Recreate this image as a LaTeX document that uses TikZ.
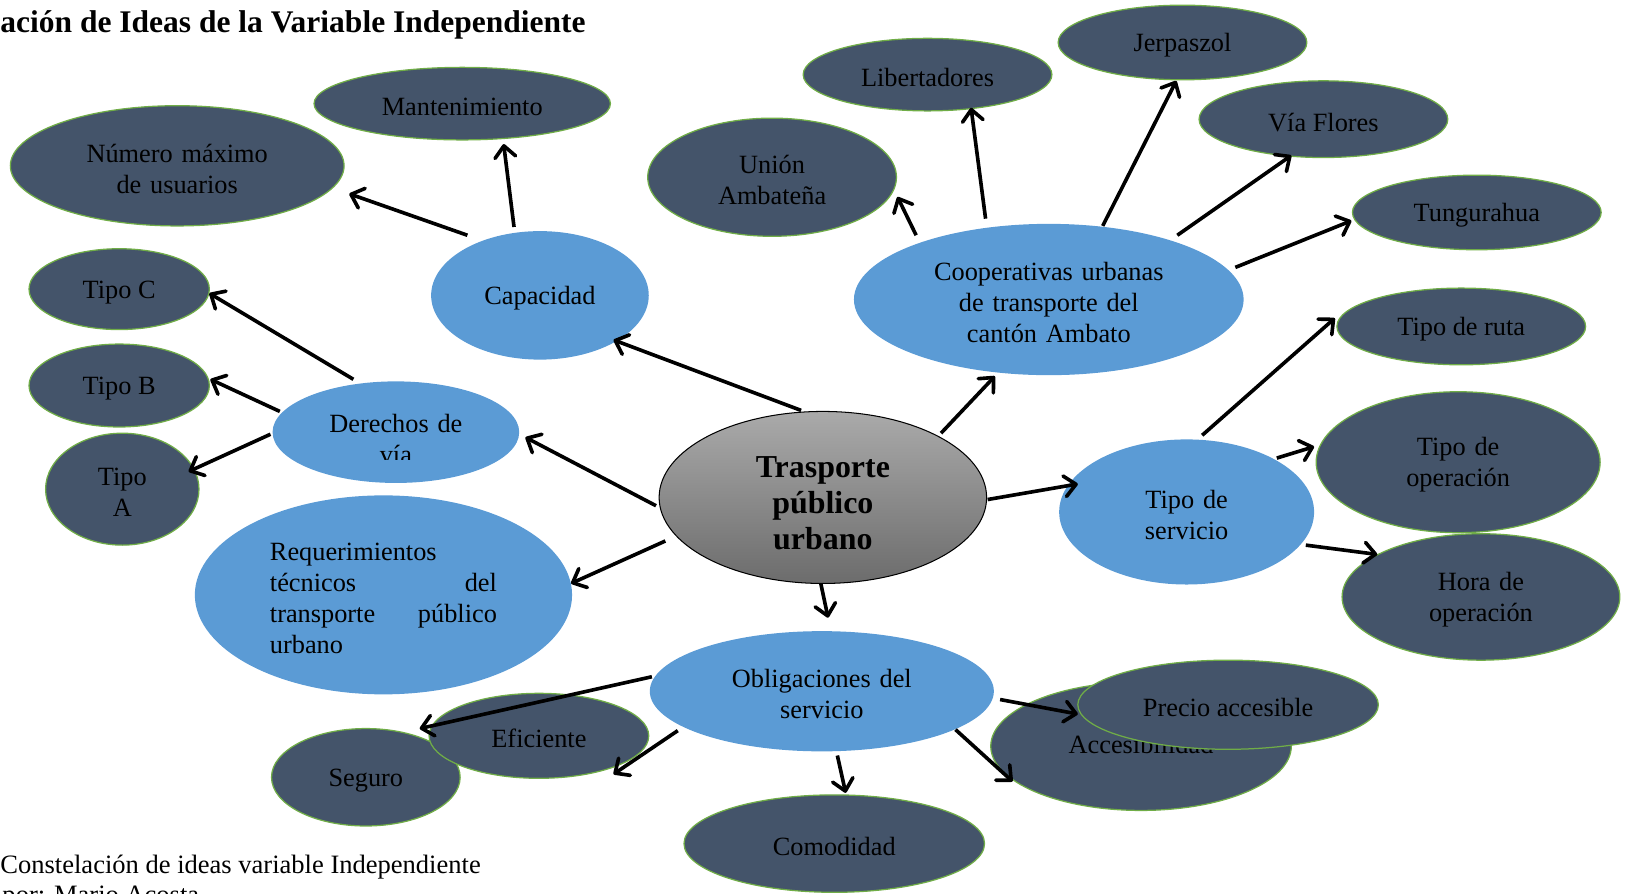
\documentclass[tikz,border=0pt]{standalone}
\usepackage{fontspec}
\setmainfont{Liberation Serif}
\usetikzlibrary{shapes.geometric,arrows.meta}
\definecolor{darkfill}{HTML}{44546A}
\definecolor{greenb}{HTML}{70AD47}
\definecolor{bluefill}{HTML}{5B9BD5}
\definecolor{gtop}{RGB}{170,170,170}
\definecolor{gbot}{RGB}{108,108,108}
\tikzset{
  base/.style={ellipse, inner sep=0pt, align=center, font=\fontsize{12.7}{15}\selectfont,
               execute at begin node={\rule{0pt}{11.6pt}}},
  dnode/.style={base, fill=darkfill, draw=greenb, line width=0.6pt},
  bnode/.style={base, fill=bluefill, draw=none},
  sz/.style 2 args={minimum width=#1pt, minimum height=#2pt},
  arr/.style={line width=1.75pt, -{Straight Barb[length=5.5pt,width=10pt,round]}},
  txt/.style={inner sep=0pt, align=center, font=\fontsize{12.7}{15}\selectfont,
              execute at begin node={\rule{0pt}{11.6pt}}}
}
\begin{document}
\begin{tikzpicture}[x=0.5pt,y=-0.5pt]
\useasboundingbox (0,0) rectangle (1568,862);
% title and caption
\node[anchor=base west, inner sep=0pt, font=\fontsize{15.2}{18}\selectfont\bfseries] (title) at (0,31) {ación de Ideas de la Variable Independiente};
\node[anchor=base west, inner sep=0pt, font=\fontsize{12.8}{15}\selectfont] (cap1) at (0,843) {Constelación de ideas variable Independiente};
\node[anchor=base west, inner sep=0pt, font=\fontsize{12.8}{15}\selectfont] (cap2) at (2,872) {por: Mario Acosta};
% central
\node[ellipse, inner sep=0pt, align=center, text width=70pt, draw=black, line width=0.5pt, top color=gtop, bottom color=gbot, sz={158}{83},
      font=\fontsize{15.4}{17.5}\selectfont\bfseries,
      execute at begin node={\rule{0pt}{15.8pt}}] (cen) at (794,480) {Trasporte\\público\\urbano};
% blue nodes
\node[bnode, sz={105}{62}] (cap) at (521,285) {Capacidad};
\node[bnode, sz={188}{73}, text width=115pt] (coop) at (1012,289) {Cooperativas urbanas\\de transporte del\\cantón Ambato};
\node[bnode, sz={119}{49}] (der) at (382,417) {};
\begin{scope}
  \clip (250,380) rectangle (520,443);
  \node[txt, text width=70pt] (dertxt) at (382,421) {Derechos de\\vía};
\end{scope}
\node[bnode, sz={182}{96}, align=left, text width=109.5pt] (req) at (370,574)
  {Requerimientos\\técnicos\hfill del\\transporte\hfill público\\urbano};
\node[bnode, sz={123}{70}, text width=50pt] (ts) at (1145,494) {Tipo de\\servicio};
\node[bnode, sz={166}{58}, text width=92pt] (obl) at (793,667) {Obligaciones del\\servicio};
% dark nodes
\node[dnode, sz={161}{58}, text width=92pt] (num) at (171,160) {Número máximo\\de usuarios};
\node[dnode, sz={143}{35}] (mant) at (446,100) {Mantenimiento};
\node[dnode, sz={120}{57}, text width=58pt] (union) at (745,171) {Unión\\Ambateña};
\node[dnode, sz={120}{35}] (lib) at (895,72) {Libertadores};
\node[dnode, sz={120}{36}] (jer) at (1141,41) {Jerpaszol};
\node[dnode, sz={120}{37}] (via) at (1277,115) {Vía Flores};
\node[dnode, sz={120}{36}] (tung) at (1425,205) {Tungurahua};
\node[dnode, sz={120}{37}] (tr) at (1410,315) {Tipo de ruta};
\node[dnode, sz={137}{68}, text width=58pt] (top) at (1407,446) {Tipo de\\operación};
\node[dnode, sz={134}{61}, text width=58pt] (hora) at (1429,576) {Hora de\\operación};
\node[dnode, sz={87}{39}] (tc) at (115,279) {Tipo C};
\node[dnode, sz={87}{40}] (tb) at (115,372) {Tipo B};
\node[dnode, sz={74}{54}, text width=34pt] (ta) at (118,472) {Tipo\\A};
\node[dnode, sz={91}{47}] (seg) at (353,750) {Seguro};
\node[dnode, sz={106}{41}] (efi) at (520,710) {Eficiente};
\node[dnode, sz={145}{47}] (com) at (805,814) {Comodidad};
\node[dnode, sz={145}{62}] (acc) at (1101,720) {};
\node[txt] (acctxt) at (1101,716) {Accesibilidad};
\node[dnode, sz={145}{43}] (pre) at (1185,680) {Precio accesible};
% connectors
\draw[arr] ([shift={(-21,-84)}]cen.center) -- ([shift={(71,43)}]cap.center);
\draw[arr] ([shift={(-70,-58)}]cap.center) -- ([shift={(166,27)}]num.center);
\draw[arr] ([shift={(-25,-66)}]cap.center) -- ([shift={(40,39)}]mant.center);
\draw[arr] ([shift={(-161,8)}]cen.center) -- ([shift={(125,5)}]der.center);
\draw[arr] ([shift={(-41,-51)}]der.center) -- ([shift={(87,4)}]tc.center);
\draw[arr] ([shift={(-112,-20)}]der.center) -- ([shift={(88,-6)}]tb.center);
\draw[arr] ([shift={(-121,2)}]der.center) -- ([shift={(64,-17)}]ta.center);
\draw[arr] ([shift={(-152,42)}]cen.center) -- ([shift={(181,-11)}]req.center);
\draw[arr] ([shift={(114,-62)}]cen.center) -- ([shift={(-52,74)}]coop.center);
\draw[arr] ([shift={(-128,-62)}]coop.center) -- ([shift={(121,19)}]union.center);
\draw[arr] ([shift={(-61,-78)}]coop.center) -- ([shift={(42,32)}]lib.center);
\draw[arr] ([shift={(52,-71)}]coop.center) -- ([shift={(-6,37)}]jer.center);
\draw[arr] ([shift={(124,-62)}]coop.center) -- ([shift={(-31,35)}]via.center);
\draw[arr] ([shift={(180,-31)}]coop.center) -- ([shift={(-121,8)}]tung.center);
\draw[arr] ([shift={(159,2)}]cen.center) -- ([shift={(-105,-27)}]ts.center);
\draw[arr] ([shift={(15,-74)}]ts.center) -- ([shift={(-122,-8)}]tr.center);
\draw[arr] ([shift={(87,-52)}]ts.center) -- ([shift={(-139,-15)}]top.center);
\draw[arr] ([shift={(115,32)}]ts.center) -- ([shift={(-100,-41)}]hora.center);
\draw[arr] ([shift={(-2,83)}]cen.center) -- ([shift={(6,-71)}]obl.center);
\draw[arr] ([shift={(-164,-14)}]obl.center) -- ([shift={(52,-47)}]seg.center);
\draw[arr] ([shift={(-139,38)}]obl.center) -- ([shift={(72,37)}]efi.center);
\draw[arr] ([shift={(15,62)}]obl.center) -- ([shift={(11,-49)}]com.center);
\draw[arr] ([shift={(172,8)}]obl.center) -- ([shift={(-145,9)}]pre.center);
\draw[arr] ([shift={(129,37)}]obl.center) -- ([shift={(-124,34)}]acc.center);
\end{tikzpicture}
\end{document}
